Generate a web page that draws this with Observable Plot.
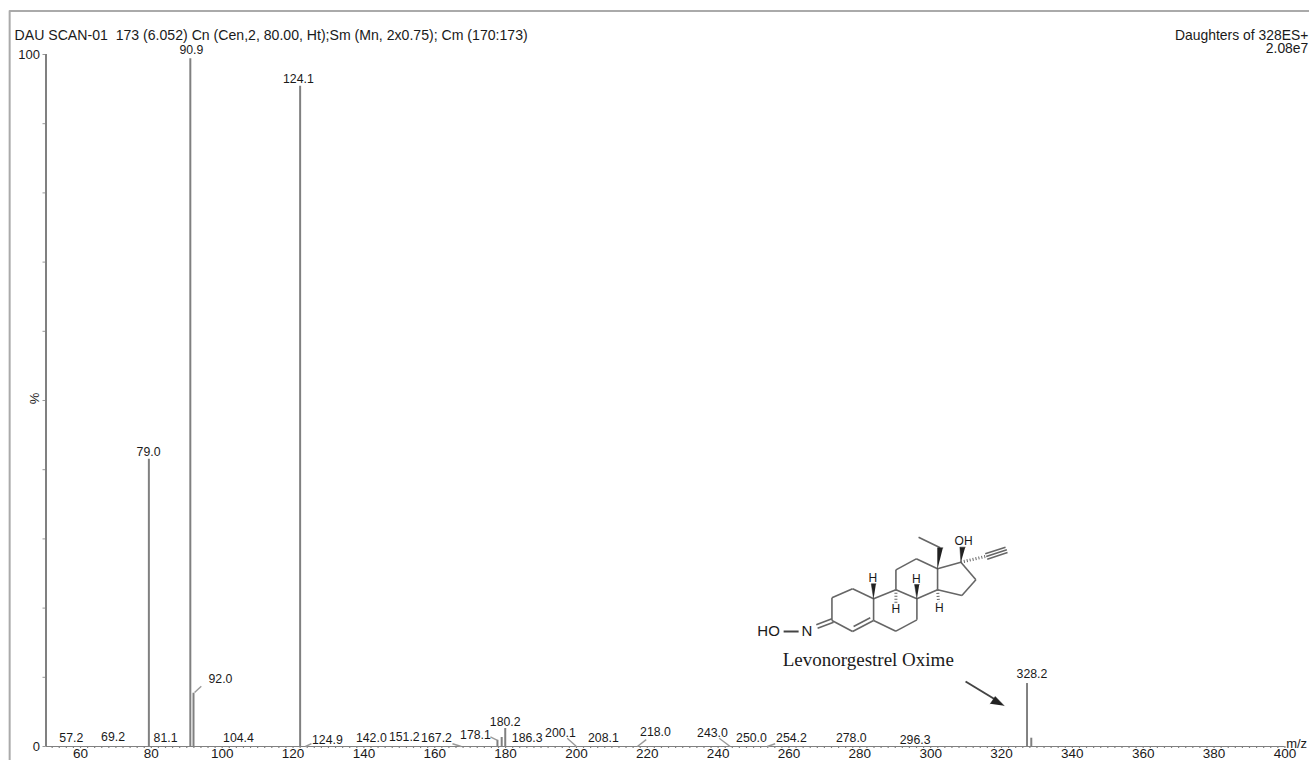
<!DOCTYPE html>
<html><head><meta charset="utf-8">
<script src="https://cdn.jsdelivr.net/npm/d3@7"></script>
<script src="https://cdn.jsdelivr.net/npm/@observablehq/plot@0.6"></script>
<style>html,body{margin:0;padding:0;background:#fff;overflow:hidden}svg{display:block}</style>
</head><body><div id="chart"></div>
<script>
// Peaks as drawn: position on the m/z axis and relative intensity (%)
const peakMz  = [79.3, 91.0, 91.9, 122.0, 177.7, 178.9, 179.9, 327.2, 328.4];
const peakPct = [41.5, 99.4, 7.7, 95.4, 0.9, 1.3, 2.6, 9.1, 1.2];

// Peak labels: text and the place each one sits, in axis units
const labelText = ["57.2","69.2","79.0","81.1","90.9","92.0","104.4","124.1","124.9","142.0","151.2","167.2","178.1","180.2","186.3","200.1","208.1","218.0","243.0","250.0","254.2","278.0","296.3","328.2"];
const labelMz   = [57.4,69.2,79.2,84.0,91.3,99.5,104.6,121.5,129.7,142.1,151.4,160.5,171.5,179.9,186.1,195.5,207.6,222.3,238.4,249.4,260.7,277.6,295.6,328.6];
const labelPct  = [1.2,1.3,42.5,1.2,100.6,9.8,1.2,96.5,1.0,1.2,1.3,1.2,1.6,3.6,1.2,2.0,1.2,2.1,2.0,1.2,1.2,1.2,1.0,10.4];

// Leader lines from labels to peaks
const leaderMz1 = [92.2,123.5,165,175.7,197.4,217.2,240.3,253.9];
const leaderPct1= [7.8,0,0.4,1.4,1.2,0,1.2,0];
const leaderMz2 = [94.1,125.2,167.5,177.7,200,219.7,243.4,256.1];
const leaderPct2= [8.7,0.4,0,0.9,0,1,0,0.4];

const xTicks = d3.range(60,401,20);
const xMinor = d3.range(52,402,2);
const yTicks = d3.range(0,101,10);

// Structure drawing, in its own drawing units
const bonds = [
 [305,360,305,292],[305,292,367,265],[367,265,430,295],[430,295,430,360],[430,360,367,393],[367,393,305,360],
 [370,378,420,352],[305,355,258,373],[310,365,262,383],
 [430,295,497,268],[497,268,560,295],[560,295,560,358],[560,358,497,392],[497,392,430,360],
 [497,268,497,208],[497,208,558,175],[558,175,622,205],[622,205,622,268],[622,268,560,295],
 [622,205,692,185],[692,185,737,238],[737,238,695,285],[695,285,622,268],
 [630,142,565,110],[765,160,826,140],[768,168,830,148],[771,176,832,156]
];
const thickBonds = [[160,393,205,393],[706,543,800,600]];
const hashes = [[692,185,765,168],[497,268,497,310],[622,268,625,305]];
const wedges = [
 [622,205,622,142,638,142],[692,185,689,140,705,140],
 [430,295,423,250,437,250],[560,295,553,252,567,252],
 [822,616,795,588,780,610]
];
const atoms = [["OH",700,122],["H",428,232],["H",558,235],["H",497,325],["H",627,323]];
const bigAtoms = [["HO",115,393],["N",230,392]];

const mx = z => 60 + (730 + z/3 - 80)/3.5435;
const my = z => (746 - (500 + z/3))/6.92;
const wedgePts = wedges.flatMap((w,i)=>[[w[0],w[1],i],[w[2],w[3],i],[w[4],w[5],i]]);

const grey = "#808080", ink = "#1a1a1a", font = "Liberation Sans";

const plot = Plot.plot({
  width:1309, height:760,
  marginLeft:45.5, marginRight:26, marginTop:54, marginBottom:14,
  style:{fontFamily:font, background:"#fff"},
  x:{domain:[50.26,399.6]}, y:{domain:[0,100]},
  marks:[
    // frame
    Plot.ruleX([40],{y1:-3,y2:106.3,stroke:"#aaa",strokeWidth:2}),
    Plot.ruleY([106.3],{x1:40,x2:410,stroke:"#aaa",strokeWidth:2}),
    // axes
    Plot.axisY({ticks:yTicks,tickSize:3,tickPadding:3,stroke:"#999",fontSize:13,fill:ink,label:null,
      tickFormat:d=>(d===0||d===100)?d:""}),
    Plot.ruleX([50.26],{y1:0,y2:100,stroke:grey,strokeWidth:2}),
    Plot.axisX({ticks:xMinor,tickSize:2,stroke:grey,strokeWidth:1.2,tickFormat:()=>"",label:null}),
    Plot.axisX({ticks:xTicks,tickSize:0,tickPadding:2,fontSize:13.5,fill:ink,label:null,stroke:"none"}),
    Plot.ruleY([0],{x1:50.26,x2:400,stroke:grey,strokeWidth:1}),
    // peaks
    Plot.ruleX(peakMz,{x:d=>d,y1:0,y2:(d,i)=>peakPct[i],stroke:grey,strokeWidth:2}),
    Plot.link(leaderMz1,{x1:d=>d,y1:(d,i)=>leaderPct1[i],x2:(d,i)=>leaderMz2[i],y2:(d,i)=>leaderPct2[i],stroke:"#999",strokeWidth:1.4}),
    Plot.text(labelText,{text:d=>d,x:(d,i)=>labelMz[i],y:(d,i)=>labelPct[i],fontSize:12.3,fill:ink}),
    // header text
    Plot.text(["DAU SCAN-01  173 (6.052) Cn (Cen,2, 80.00, Ht);Sm (Mn, 2x0.75); Cm (170:173)"],{text:d=>d,x:41.4,y:102.7,textAnchor:"start",fontSize:14.1,fill:ink}),
    Plot.text(["Daughters of 328ES+"],{text:d=>d,x:406.6,y:102.7,textAnchor:"end",fontSize:13.9,fill:ink}),
    Plot.text(["2.08e7"],{text:d=>d,x:406.6,y:100.8,textAnchor:"end",fontSize:13.9,fill:ink}),
    Plot.text(["%"],{text:d=>d,x:47,y:50.3,rotate:-90,fontSize:13,fill:ink}),
    Plot.text(["m/z"],{text:d=>d,x:403.3,y:0.4,fontSize:13,fill:ink}),
    // structure
    Plot.link(bonds,{x1:d=>mx(d[0]),y1:d=>my(d[1]),x2:d=>mx(d[2]),y2:d=>my(d[3]),stroke:"#666",strokeWidth:1.6}),
    Plot.link(thickBonds,{x1:d=>mx(d[0]),y1:d=>my(d[1]),x2:d=>mx(d[2]),y2:d=>my(d[3]),stroke:"#444",strokeWidth:2}),
    Plot.link(hashes,{x1:d=>mx(d[0]),y1:d=>my(d[1]),x2:d=>mx(d[2]),y2:d=>my(d[3]),stroke:"#666",strokeWidth:3,strokeDasharray:"1,2"}),
    Plot.line(wedgePts,{x:d=>mx(d[0]),y:d=>my(d[1]),z:d=>d[2],fill:"#222",stroke:"#222",strokeWidth:0.5}),
    Plot.text(atoms,{text:d=>d[0],x:d=>mx(d[1]),y:d=>my(d[2]),fontSize:12,fill:ink}),
    Plot.text(bigAtoms,{text:d=>d[0],x:d=>mx(d[1]),y:d=>my(d[2]),fontSize:15,fill:ink}),
    Plot.text(["Levonorgestrel Oxime"],{text:d=>d,x:mx(414),y:my(478),fontFamily:"Liberation Serif",fontSize:19,fill:ink})
  ]
});
document.getElementById("chart").appendChild(plot);
</script></body></html>
